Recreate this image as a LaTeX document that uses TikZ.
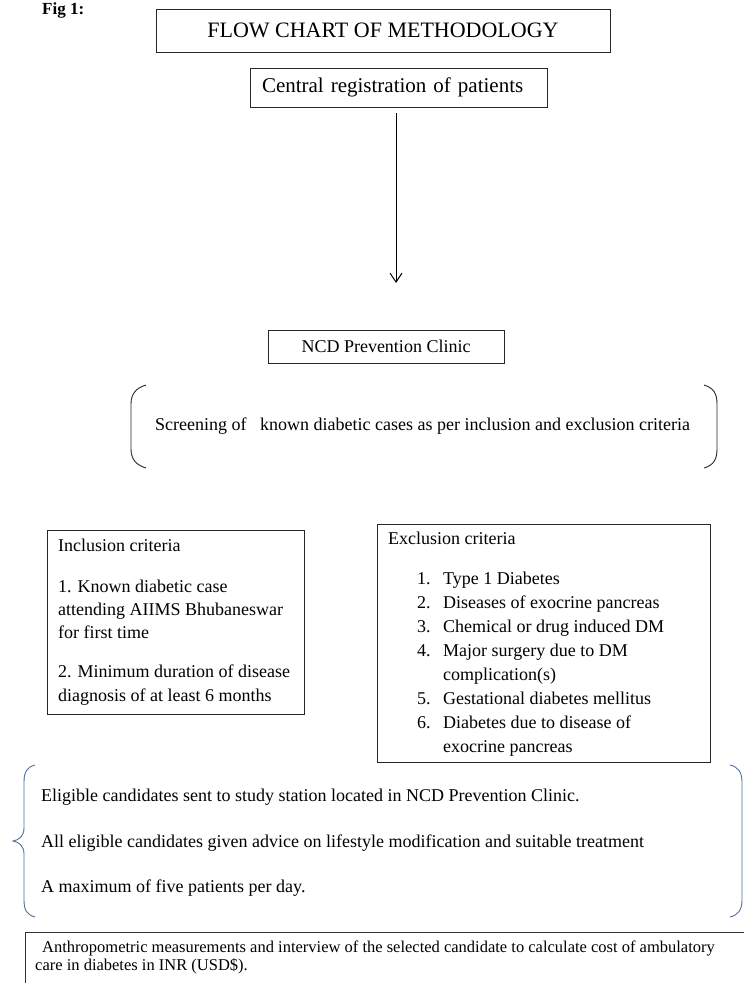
\documentclass[tikz,border=0pt]{standalone}
\usepackage{fontspec}
\setmainfont{Liberation Serif}
\usetikzlibrary{arrows.meta}
\definecolor{bracecol}{RGB}{79,112,160}
\tikzset{
  txt/.style={anchor=west, inner sep=0pt, text height=13pt, text depth=4pt, font=\fontsize{18}{21}\selectfont},
  smalltxt/.style={txt, font=\fontsize{16.5}{19}\selectfont},
  frame/.style={draw=black!85, line width=0.9pt, inner sep=0pt},
  paren/.style={draw=black!85, line width=0.9pt},
  brace/.style={draw=bracecol, line width=0.9pt},
  arr/.style={-{Straight Barb[length=9pt,width=12pt]}, line width=1pt}
}
\begin{document}
\begin{tikzpicture}[x=1pt,y=-1pt]
        \useasboundingbox (0,0) rectangle (744,983);

        \node[anchor=west, inner sep=0pt, font=\fontsize{17}{20}\selectfont\bfseries] (fig) at (42,10) {Fig 1:};

        \node[frame, minimum width=454pt, minimum height=43pt, font=\fontsize{22}{26}\selectfont] (title) at (383,30.5) {FLOW CHART OF METHODOLOGY};
        \node[frame, text width=273pt, align=left, inner xsep=12pt, minimum height=39pt, font=\fontsize{21}{25}\selectfont] (reg) at (398.5,87.5) {Central registration of patients};

        \coordinate (arrtop) at (396,113);
        \coordinate (arrtip) at (396,283);
        \draw[arr] (arrtop) -- (arrtip);

        \node[frame, minimum width=236pt, minimum height=33pt, font=\fontsize{18}{21}\selectfont] (ncd) at (386,346.5) {NCD Prevention Clinic};

        % screening step between round brackets
        \node[txt] (screen) at (155,426) {Screening of \ \ known diabetic cases as per inclusion and exclusion criteria};
        \draw[paren] (146,385) .. controls (136,388) and (131,394) .. (131,404) -- (131,449) .. controls (131,459) and (136,465) .. (146,468);
        \draw[paren] (704,385) .. controls (714,388) and (717,394) .. (717,404) -- (717,449) .. controls (717,459) and (714,465) .. (704,468);

        % inclusion criteria
        \node[frame, minimum width=257pt, minimum height=184pt] (incl) at (175.5,622) {};
        \node[txt] (inhead) at (58,547) {Inclusion criteria};
        \node[txt] (in1a) at (58,588) {1. Known diabetic case};
        \node[txt] (in1b) at (58,611) {attending AIIMS Bhubaneswar};
        \node[txt] (in1c) at (58,634) {for first time};
        \node[txt] (in2a) at (58,673) {2. Minimum duration of disease};
        \node[txt] (in2b) at (58,697) {diagnosis of at least 6 months};

        % exclusion criteria
        \node[frame, minimum width=333pt, minimum height=238pt] (excl) at (543.5,643) {};
        \node[txt] (exhead) at (388,540) {Exclusion criteria};
        \node[txt] (ex1n) at (417,580) {1.};
        \node[txt] (ex1) at (443,580) {Type 1 Diabetes};
        \node[txt] (ex2n) at (417,604) {2.};
        \node[txt] (ex2) at (443,604) {Diseases of exocrine pancreas};
        \node[txt] (ex3n) at (417,628) {3.};
        \node[txt] (ex3) at (443,628) {Chemical or drug induced DM};
        \node[txt] (ex4n) at (417,652) {4.};
        \node[txt] (ex4) at (443,652) {Major surgery due to DM};
        \node[txt] (ex4b) at (443,676) {complication(s)};
        \node[txt] (ex5n) at (417,700) {5.};
        \node[txt] (ex5) at (443,700) {Gestational diabetes mellitus};
        \node[txt] (ex6n) at (417,724) {6.};
        \node[txt] (ex6) at (443,724) {Diabetes due to disease of};
        \node[txt] (ex6b) at (443,748) {exocrine pancreas};

        % study station, between a brace and a bracket
        \draw[brace] (35,765) .. controls (27,767) and (24,772) .. (24,782) -- (24,828) .. controls (24,836) and (19,840) .. (13,841) .. controls (19,842) and (24,846) .. (24,854) -- (24,900) .. controls (24,910) and (27,915) .. (35,917);
        \draw[brace] (730,765) .. controls (738,767) and (742,772) .. (742,782) -- (742,900) .. controls (742,910) and (738,915) .. (730,917);
        \node[txt] (elig) at (41,797) {Eligible candidates sent to study station located in NCD Prevention Clinic.};
        \node[txt] (advice) at (41,843) {All eligible candidates given advice on lifestyle modification and suitable treatment};
        \node[txt] (maxday) at (41,888) {A maximum of five patients per day.};

        \node[draw=black!80, line width=1.4pt, anchor=north west, minimum width=740pt, minimum height=80pt, inner sep=0pt] (cost) at (25,932) {};
        \node[smalltxt] (cost1) at (42,948) {Anthropometric measurements and interview of the selected candidate to calculate cost of ambulatory};
        \node[smalltxt] (cost2) at (35,966) {care in diabetes in INR (USD\$).};
      \end{tikzpicture}
\end{document}
